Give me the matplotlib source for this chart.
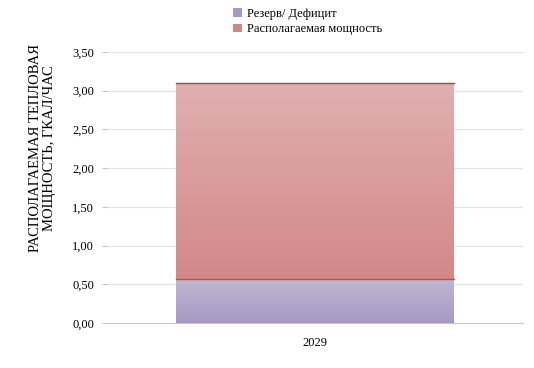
import numpy as np
import matplotlib.pyplot as plt
from matplotlib.colors import LinearSegmentedColormap
from matplotlib.patches import Patch

plt.rcParams['font.family'] = ['Liberation Serif', 'DejaVu Serif']

years = ["2029"]
reserve = [0.57]
available = [2.53]
series_names = ["Резерв/ Дефицит", "Располагаемая мощность"]
yticks = [0.0, 0.5, 1.0, 1.5, 2.0, 2.5, 3.0, 3.5]

PURPLE_TOP, PURPLE_BOT = "#BFB8D2", "#A898C4"
RED_TOP, RED_BOT = "#E0B0B0", "#D38888"

fig = plt.figure(figsize=(5.34, 3.68), dpi=100, facecolor="white")
ax = fig.add_axes([0.202, 0.122, 0.777, 0.737])

x = np.arange(len(years))
b1 = ax.bar(x, reserve, width=0.67, color=PURPLE_BOT, zorder=2)
b2 = ax.bar(x, available, width=0.67, bottom=reserve, color=RED_BOT, zorder=2)


def gradient(bars, c_top, c_bot):
    cmap = LinearSegmentedColormap.from_list("g", [c_bot, c_top])
    for bar in bars:
        x0, y0 = bar.get_x(), bar.get_y()
        x1, y1 = x0 + bar.get_width(), y0 + bar.get_height()
        grad = np.linspace(0, 1, 256).reshape(-1, 1)
        im = ax.imshow(grad, extent=(x0, x1, y0, y1), origin="lower", cmap=cmap,
                       aspect="auto", zorder=3)
        im.set_clip_path(bar)
        bar.set_facecolor("none")


gradient(b1, PURPLE_TOP, PURPLE_BOT)
gradient(b2, RED_TOP, RED_BOT)

# thin dark top edges of each segment
for bars, col in ((b1, "#C0504D"), (b2, "#A04848")):
    for bar in bars:
        top = bar.get_y() + bar.get_height()
        ax.plot([bar.get_x(), bar.get_x() + bar.get_width()], [top, top],
                color=col, lw=1.0, zorder=4)

ax.set_xlim(-0.5, 0.5)
ax.set_ylim(0, 3.5)
ax.set_yticks(yticks)
ax.set_yticklabels([f"{v:.2f}".replace(".", ",") for v in yticks], fontsize=9)
ax.set_xticks(x)
ax.set_xticklabels(years, fontsize=9)
ax.grid(axis="y", color="#E4E4E4", lw=0.9, zorder=0)
ax.set_axisbelow(True)
for s in ("left", "right", "top"):
    ax.spines[s].set_visible(False)
ax.spines["bottom"].set_color("#C8C8C8")
ax.tick_params(axis="y", length=4, color="#C8C8C8", pad=6)
ax.tick_params(axis="x", length=0, pad=10)

ax.set_ylabel("РАСПОЛАГАЕМАЯ ТЕПЛОВАЯ\nМОЩНОСТЬ, ГКАЛ/ЧАС", fontsize=10.5, linespacing=1.15)
ax.yaxis.set_label_coords(-0.125, 0.645)

handles = [Patch(facecolor=PURPLE_BOT, edgecolor="none"), Patch(facecolor=RED_BOT, edgecolor="none")]
fig.legend(handles, series_names, loc="upper left", bbox_to_anchor=(0.415, 1.01),
           frameon=False, fontsize=9, handlelength=0.7, handleheight=0.7,
           handletextpad=0.4, labelspacing=0.3)

fig.savefig("out.png", dpi=100, facecolor="white")
